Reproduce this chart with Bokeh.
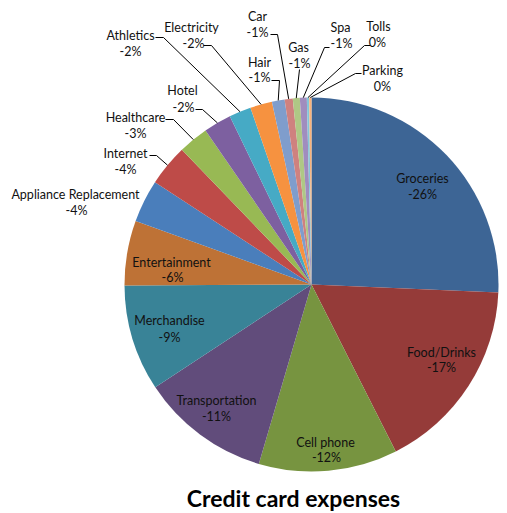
import math
from bokeh.plotting import figure
from bokeh.models import Range1d
from bokeh.core.properties import value
from bokeh.embed import file_html
from bokeh.resources import INLINE

# ---- data ----
categories = ["Groceries", "Food/Drinks", "Cell phone", "Transportation", "Merchandise",
              "Entertainment", "Appliance Replacement", "Internet", "Healthcare", "Hotel",
              "Athletics", "Electricity", "Hair", "Car", "Gas", "Spa", "Tolls", "Parking"]
amounts = [-25.7, -16.9, -12.0, -11.2, -9.2, -5.6, -3.7, -3.6, -2.6, -2.4,
           -1.9, -1.9, -1.1, -0.7, -0.6, -0.6, -0.2, -0.2]
title_text = "Credit card expenses"

# ---- styles ----
colors = ["#3D6595", "#953B39", "#779440", "#614C7B", "#398397", "#BE7236",
          "#4A7EBB", "#BE4B48", "#98B954", "#7D60A0", "#46AAC5", "#F69240",
          "#7F9DCC", "#CF817F", "#AFC885", "#A08DBE", "#84C6D9", "#F9B27A"]

IMG_W, IMG_H = 507, 513
def fy(y):
    return IMG_H - y

CX, CY, R = 311, fy(284), 187

# label layout: name center, pct center (image coords), leader (start, elbow) or None
layout = {
    "Groceries": ((422, 178), (422, 194), None),
    "Food/Drinks": ((441, 352), (441, 367), None),
    "Cell phone": ((325, 442), (326, 457), None),
    "Transportation": ((216, 400), (216, 416), None),
    "Merchandise": ((169, 320), (169, 337), None),
    "Entertainment": ((171, 262), (172, 277), None),
    "Appliance Replacement": ((75, 194), (76, 210), None),
    "Internet": ((125, 153), (125, 169), ((149, 155), (156, 155))),
    "Healthcare": ((135, 117), (135, 133), ((165, 119), (173, 119))),
    "Hotel": ((182, 90), (183, 107), ((195, 109), (202, 109))),
    "Athletics": ((130, 35), (130, 51), ((155, 37), (163, 37))),
    "Electricity": ((191, 27), (193, 43), ((203, 45), (211, 45))),
    "Hair": ((259, 62), (259, 77), ((271, 80), (279, 80))),
    "Car": ((257, 16), (257, 32), ((270, 34), (277, 34))),
    "Gas": ((298, 47), (299, 63), ((299, 69), (299, 69))),
    "Spa": ((340, 27), (341, 43), ((329, 47), (324, 47))),
    "Tolls": ((378, 26), (377, 42), ((370, 45), (364, 45))),
    "Parking": ((382, 70), (382, 86), ((361, 73), (355, 73))),
}

total = sum(abs(a) for a in amounts)
fracs = [abs(a) / total for a in amounts]

starts, ends, mids = [], [], []
cum = 0.0
for f in fracs:
    a0 = math.pi / 2 - 2 * math.pi * cum
    a1 = math.pi / 2 - 2 * math.pi * (cum + f)
    starts.append(a1)
    ends.append(a0)
    mids.append(math.pi / 2 - 2 * math.pi * (cum + f / 2))
    cum += f

def pct_label(a):
    r = round(a / total * 100)
    return "0%" if r == 0 else f"{r}%"

p = figure(width=IMG_W, height=IMG_H, x_range=Range1d(0, IMG_W), y_range=Range1d(0, IMG_H),
           output_backend="svg", toolbar_location=None, min_border=0)
p.axis.visible = False
p.grid.visible = False
p.outline_line_color = None
p.background_fill_color = "white"
p.border_fill_color = "white"

p.wedge(x=[CX] * len(amounts), y=[CY] * len(amounts), radius=R,
        start_angle=starts, end_angle=ends, direction="anticlock",
        fill_color=colors, line_color=None)

# leader lines
xs, ys = [], []
for cat, m in zip(categories, mids):
    lead = layout[cat][2]
    if lead is None:
        continue
    (sx, sy), (ex, ey) = lead
    px = CX + R * math.cos(m)
    py = CY + R * math.sin(m)
    xs.append([sx, ex, px])
    ys.append([fy(sy), fy(ey), py])
p.multi_line(xs, ys, line_color="#000000", line_width=1)

nx, ny, tx, ty, names, pcts = [], [], [], [], [], []
for cat, a in zip(categories, amounts):
    (n, q, _) = layout[cat]
    nx.append(n[0]); ny.append(fy(n[1])); names.append(cat)
    tx.append(q[0]); ty.append(fy(q[1])); pcts.append(pct_label(a))

common = dict(text_align="center", text_baseline="middle",
              text_font=value("Lato"), text_font_size="12.5px", text_color="#111111")
p.text(x=nx, y=ny, text=names, **common)
p.text(x=tx, y=ty, text=pcts, **common)

p.text(x=[293], y=[fy(497)], text=[title_text], text_align="center", text_baseline="middle",
       text_font=value("Lato"), text_font_size="23px", text_font_style="bold",
       text_color="#000000")

open("out.html", "w").write(file_html(p, INLINE))
